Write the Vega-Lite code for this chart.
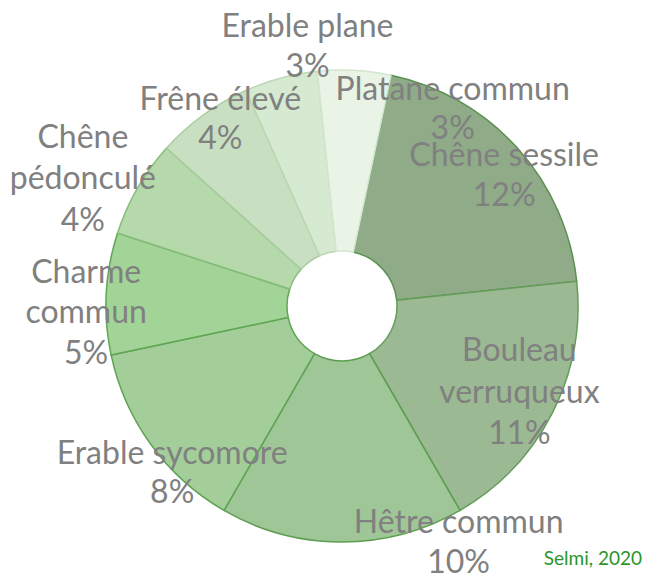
{
  "$schema": "https://vega.github.io/schema/vega-lite/v6.json",
  "autosize": "none",
  "width": 608,
  "height": 532,
  "padding": {"left": 38, "top": 40, "right": 0, "bottom": 1},
  "background": "white",
  "view": {"stroke": null},
  "title": {"text": "Selmi, 2020", "orient": "bottom", "anchor": "end", "frame": "group", "offset": -29, "dx": -4, "color": "#2a962a", "fontSize": 19, "font": "Lato", "fontWeight": "normal"},
  "data": {"values": [
    {"espece": "Chêne sessile", "pct": 12, "ordre": 1, "label": "Chêne sessile\n12%"},
    {"espece": "Bouleau verruqueux", "pct": 11, "ordre": 2, "label": "Bouleau\nverruqueux\n11%"},
    {"espece": "Hêtre commun", "pct": 10, "ordre": 3, "label": "Hêtre commun\n10%"},
    {"espece": "Erable sycomore", "pct": 8, "ordre": 4, "label": "Erable sycomore\n8%"},
    {"espece": "Charme commun", "pct": 5, "ordre": 5, "label": "Charme\ncommun\n5%"},
    {"espece": "Chêne pédonculé", "pct": 4, "ordre": 6, "label": "Chêne\npédonculé\n4%"},
    {"espece": "Frêne élevé", "pct": 4, "ordre": 7, "label": "Frêne élevé\n4%"},
    {"espece": "Erable plane", "pct": 3, "ordre": 8, "label": "Erable plane\n3%"},
    {"espece": "Platane commun", "pct": 3, "ordre": 9, "label": "Platane commun\n3%"}
  ]},
  "transform": [
    {"stack": "pct", "groupby": [], "sort": [{"field": "ordre", "order": "ascending"}], "as": ["v0", "v1"]}
  ],
  "encoding": {
    "theta": {"field": "v0", "type": "quantitative", "scale": {"domain": [0, 60], "range": [0.2094, 6.4926]}}
  },
  "layer": [
    {
      "mark": {"type": "arc", "outerRadius": 236, "innerRadius": 55, "strokeWidth": 1.5},
      "encoding": {
        "theta2": {"field": "v1"},
        "color": {"field": "espece", "type": "nominal", "legend": null,
          "scale": {"domain": ["Chêne sessile", "Bouleau verruqueux", "Hêtre commun", "Erable sycomore", "Charme commun", "Chêne pédonculé", "Frêne élevé", "Erable plane", "Platane commun"],
                    "range": ["#8fab88", "#9bb993", "#9fc697", "#a3cd99", "#a2d497", "#b5d9ab", "#c8e0c1", "#d6e9d1", "#e9f3e6"]}},
        "stroke": {"field": "espece", "type": "nominal", "legend": null,
          "scale": {"domain": ["Chêne sessile", "Bouleau verruqueux", "Hêtre commun", "Erable sycomore", "Charme commun", "Chêne pédonculé", "Frêne élevé", "Erable plane", "Platane commun"],
                    "range": ["#5a9050", "#649c5a", "#5c9e50", "#5fa353", "#60a654", "#86bd7b", "#a9cca0", "#bcd8b5", "#d3e6ce"]}}
      }
    },
    {
      "transform": [{"filter": "datum.espece === 'Chêne sessile'"}],
      "mark": {"type": "text", "radius": 221, "thetaOffset": 0.6144, "font": "Lato", "fontSize": 32, "color": "#808080", "lineBreak": "\n", "lineHeight": 40, "baseline": "middle", "align": "center"},
      "encoding": {"text": {"field": "label"}}
    },
    {
      "transform": [{"filter": "datum.espece === 'Bouleau verruqueux'"}],
      "mark": {"type": "text", "radius": 183, "thetaOffset": 0.3543, "font": "Lato", "fontSize": 32, "color": "#808080", "lineBreak": "\n", "lineHeight": 41.5, "baseline": "middle", "align": "center"},
      "encoding": {"text": {"field": "label"}}
    },
    {
      "transform": [{"filter": "datum.espece === 'Hêtre commun'"}],
      "mark": {"type": "text", "radius": 246, "thetaOffset": 0.0297, "font": "Lato", "fontSize": 32, "color": "#808080", "lineBreak": "\n", "lineHeight": 40, "baseline": "middle", "align": "center"},
      "encoding": {"text": {"field": "label"}}
    },
    {
      "transform": [{"filter": "datum.espece === 'Erable sycomore'"}],
      "mark": {"type": "text", "radius": 225, "thetaOffset": 0.3316, "font": "Lato", "fontSize": 32, "color": "#808080", "lineBreak": "\n", "lineHeight": 39, "baseline": "middle", "align": "center"},
      "encoding": {"text": {"field": "label"}}
    },
    {
      "transform": [{"filter": "datum.espece === 'Charme commun'"}],
      "mark": {"type": "text", "radius": 258, "thetaOffset": 0.3386, "font": "Lato", "fontSize": 32, "color": "#808080", "lineBreak": "\n", "lineHeight": 40.5, "baseline": "middle", "align": "center"},
      "encoding": {"text": {"field": "label"}}
    },
    {
      "transform": [{"filter": "datum.espece === 'Chêne pédonculé'"}],
      "mark": {"type": "text", "radius": 309, "thetaOffset": 0.2618, "font": "Lato", "fontSize": 32, "color": "#808080", "lineBreak": "\n", "lineHeight": 41.5, "baseline": "middle", "align": "center"},
      "encoding": {"text": {"field": "label"}}
    },
    {
      "transform": [{"filter": "datum.espece === 'Frêne élevé'"}],
      "mark": {"type": "text", "radius": 239, "thetaOffset": 0.3037, "font": "Lato", "fontSize": 32, "color": "#808080", "lineBreak": "\n", "lineHeight": 39, "baseline": "middle", "align": "center"},
      "encoding": {"text": {"field": "label"}}
    },
    {
      "transform": [{"filter": "datum.espece === 'Erable plane'"}],
      "mark": {"type": "text", "radius": 281, "thetaOffset": 0.2958, "font": "Lato", "fontSize": 32, "color": "#808080", "lineBreak": "\n", "lineHeight": 40, "baseline": "middle", "align": "center"},
      "encoding": {"text": {"field": "label"}}
    },
    {
      "transform": [{"filter": "datum.espece === 'Platane commun'"}],
      "mark": {"type": "text", "radius": 243, "thetaOffset": 0.5777, "font": "Lato", "fontSize": 32, "color": "#808080", "lineBreak": "\n", "lineHeight": 39, "baseline": "middle", "align": "center"},
      "encoding": {"text": {"field": "label"}}
    }
  ]
}
